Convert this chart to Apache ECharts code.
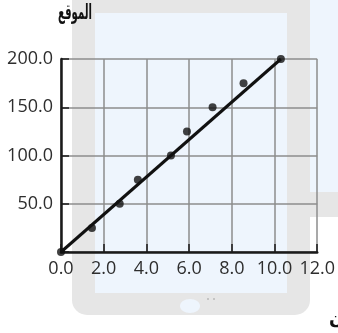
<!DOCTYPE html>
<html>
<head>
<meta charset="utf-8">
<script src="https://cdn.jsdelivr.net/npm/echarts@6/dist/echarts.min.js"></script>
<style>
  html, body { margin: 0; padding: 0; background: #ffffff; }
  #chart { width: 338px; height: 333px; }
</style>
</head>
<body>
<div id="chart"></div>
<script>
// Measured samples: time (x) and position (y)
var sampleX = [0, 1.45, 2.75, 3.6, 5.15, 5.9, 7.1, 8.55, 10.3];
var sampleY = [0, 25, 50, 75, 100, 125, 150, 175, 200];

// Best-fit line through the samples
var fitX = [0, 10.3];
var fitY = [0, 200];

// Axis settings
var xTicks = [0, 2, 4, 6, 8, 10, 12];
var yTicks = [0, 50, 100, 150, 200];
var yTitle = 'الموقع';
var xTitle = 'الزمن';

var chart = echarts.init(document.getElementById('chart'), null, { renderer: 'canvas' });

function pairs(xs, ys) {
  return xs.map(function (x, i) { return [x, ys[i]]; });
}

var labelFont = { fontFamily: 'Open Sans', fontSize: 18, color: '#2e2e2e' };
var gray = '#e6e6e6';
var blue = '#eef5fd';

chart.setOption({
  animation: false,
  backgroundColor: '#ffffff',
  graphic: [
    // tablet frame behind the plot
    { type: 'rect', z: -20, silent: true, shape: { x: 310, y: 0, width: 40, height: 192 }, style: { fill: blue } },
    { type: 'rect', z: -20, silent: true, shape: { x: 290, y: 192, width: 60, height: 25 }, style: { fill: gray } },
    { type: 'rect', z: -19, silent: true, shape: { x: 72, y: -30, width: 238, height: 345, r: 15 }, style: { fill: gray } },
    { type: 'rect', z: -18, silent: true, shape: { x: 95, y: 13, width: 192, height: 280 }, style: { fill: blue } },
    { type: 'ellipse', z: -18, silent: true, shape: { cx: 190, cy: 306, rx: 10, ry: 7 }, style: { fill: blue } },
    { type: 'circle', z: -18, silent: true, shape: { cx: 208, cy: 299, r: 0.8 }, style: { fill: '#9a9a9a' } },
    { type: 'circle', z: -18, silent: true, shape: { cx: 214, cy: 299, r: 0.8 }, style: { fill: '#9a9a9a' } },
    // axis titles
    { type: 'text', z: 10, x: 75, y: 14, scaleX: 0.48, scaleY: 1, style: { text: yTitle, font: 'bold 21px "DejaVu Sans"', fill: '#111111', align: 'center', verticalAlign: 'middle' } },
    { type: 'text', z: 10, x: 329, y: 318, style: { text: xTitle, font: 'bold 18px "DejaVu Sans"', fill: '#111111', align: 'left', verticalAlign: 'middle' } }
  ],
  grid: { left: 61, right: 16, top: 59, bottom: 81, containLabel: false },
  xAxis: {
    type: 'value',
    min: xTicks[0],
    max: xTicks[xTicks.length - 1],
    interval: xTicks[1] - xTicks[0],
    axisLine: { show: true, onZero: false, lineStyle: { color: '#1a1a1a', width: 2.5 } },
    axisTick: { show: true, inside: true, length: 8, lineStyle: { color: '#1a1a1a', width: 1.5 } },
    splitLine: { show: true, lineStyle: { color: '#8c8c8c', width: 1.5 } },
    axisLabel: Object.assign({ margin: 8, formatter: function (v) { return v.toFixed(1); } }, labelFont)
  },
  yAxis: {
    type: 'value',
    min: yTicks[0],
    max: yTicks[yTicks.length - 1],
    interval: yTicks[1] - yTicks[0],
    axisLine: { show: true, onZero: false, lineStyle: { color: '#1a1a1a', width: 2.5 } },
    axisTick: { show: true, inside: true, length: 8, lineStyle: { color: '#1a1a1a', width: 1.5 } },
    splitLine: { show: true, lineStyle: { color: '#8c8c8c', width: 1.5 } },
    axisLabel: Object.assign({ margin: 8, formatter: function (v) { return v === 0 ? '' : v.toFixed(1); } }, labelFont)
  },
  series: [
    {
      type: 'line',
      data: pairs(fitX, fitY),
      showSymbol: false,
      lineStyle: { color: '#111111', width: 3 },
      z: 3
    },
    {
      type: 'scatter',
      data: pairs(sampleX, sampleY),
      symbol: 'circle',
      symbolSize: 8,
      itemStyle: { color: '#111111' },
      z: 4
    }
  ]
});
</script>
</body>
</html>
